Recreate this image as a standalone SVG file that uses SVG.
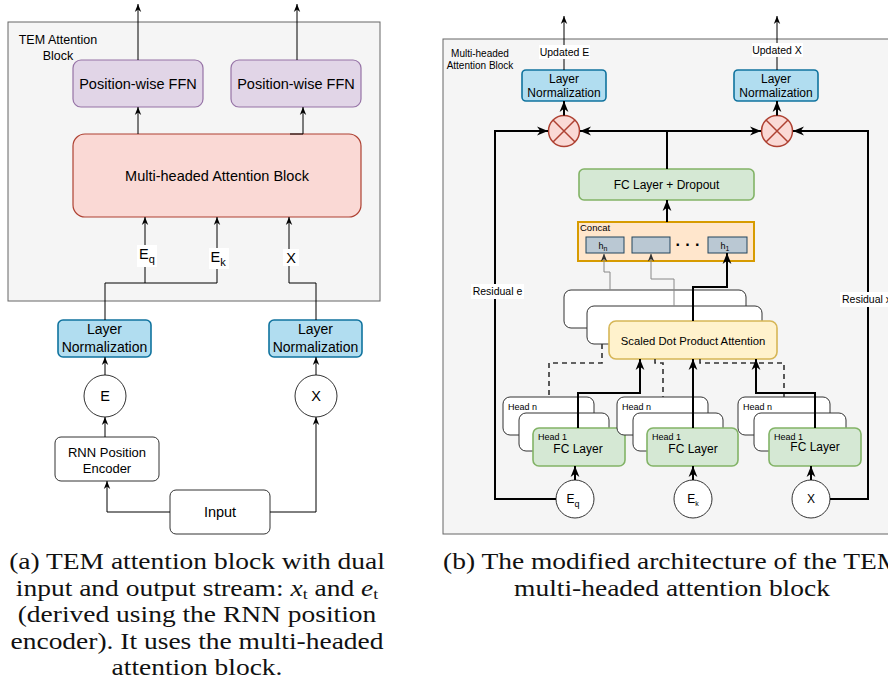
<svg xmlns="http://www.w3.org/2000/svg" width="888" height="685" viewBox="0 0 888 685">
<defs>
<style>
text{font-family:"Liberation Sans",Arial,Helvetica,sans-serif;fill:#000}
.cap{font-family:"Liberation Serif","Times New Roman",serif;font-size:23px;fill:#111}
.frame{fill:#f5f5f5;stroke:#666;stroke-width:1}
.ffn{fill:#e1d5e7;stroke:#9673a6;stroke-width:1.2}
.mha{fill:#fad9d5;stroke:#ae4132;stroke-width:1.2}
.ln{fill:#b1ddf0;stroke:#10739e;stroke-width:1.6}
.plain{fill:#fff;stroke:#333;stroke-width:1}
.fc{fill:#d5e8d4;stroke:#82b366;stroke-width:1.6}
.sdpa{fill:#fff2cc;stroke:#d6b656;stroke-width:1.6}
.concat{fill:#ffe6cc;stroke:#d79b00;stroke-width:2}
.hbox{fill:#bac8d3;stroke:#23445d;stroke-width:1}
.mul{fill:#fad9d5;stroke:#ae4132;stroke-width:1.5}
.x{stroke:#ae4132;stroke-width:1.5}
.w{fill:none;stroke:#000;stroke-width:1}
.t{fill:none;stroke:#000;stroke-width:2}
.g{fill:none;stroke:#888;stroke-width:1}
.d{fill:none;stroke:#333;stroke-width:1.6;stroke-dasharray:5 4}
.bg{fill:#fff}
</style>
<marker id="a1" viewBox="0 0 10 10" refX="10" refY="5" markerWidth="8" markerHeight="8" markerUnits="userSpaceOnUse" orient="auto"><path d="M0,1 L10,5 L0,9 L3,5 z" fill="#000"/></marker>
<marker id="a2" viewBox="0 0 10 10" refX="10" refY="5" markerWidth="11" markerHeight="11" markerUnits="userSpaceOnUse" orient="auto"><path d="M0,1 L10,5 L0,9 L3,5 z" fill="#000"/></marker>
<marker id="ag" viewBox="0 0 10 10" refX="10" refY="5" markerWidth="8" markerHeight="8" markerUnits="userSpaceOnUse" orient="auto"><path d="M0,1 L10,5 L0,9 L3,5 z" fill="#333"/></marker>
</defs>

<!-- ===== (a) TEM attention block ===== -->
<rect class="frame" x="8" y="22" width="372" height="279"/>
<text x="58" y="43.5" font-size="12.5" text-anchor="middle">TEM Attention</text>
<text x="58" y="59.5" font-size="12.5" text-anchor="middle">Block</text>

<g id="ffn-e"><rect class="ffn" x="73" y="60" width="130" height="47" rx="8"/><text x="138" y="88.5" font-size="14.5" text-anchor="middle">Position-wise FFN</text></g>
<g id="ffn-x"><rect class="ffn" x="231" y="60" width="130" height="47" rx="8"/><text x="296" y="88.5" font-size="14.5" text-anchor="middle">Position-wise FFN</text></g>
<g id="mha-a"><rect class="mha" x="73" y="134" width="288" height="83" rx="12"/><text x="217" y="181" font-size="14.5" text-anchor="middle">Multi-headed Attention Block</text></g>
<g id="ln-e-a"><rect class="ln" x="58" y="320" width="93" height="37" rx="5"/><text x="104.5" y="334" font-size="14" text-anchor="middle">Layer</text><text x="104.5" y="352" font-size="14" text-anchor="middle">Normalization</text></g>
<g id="ln-x-a"><rect class="ln" x="269" y="320" width="93" height="37" rx="5"/><text x="315.5" y="334" font-size="14" text-anchor="middle">Layer</text><text x="315.5" y="352" font-size="14" text-anchor="middle">Normalization</text></g>
<g id="e-a"><circle class="plain" cx="105" cy="396" r="21"/><text x="105" y="401" font-size="14.5" text-anchor="middle">E</text></g>
<g id="x-a"><circle class="plain" cx="316" cy="396" r="21"/><text x="316" y="401" font-size="14.5" text-anchor="middle">X</text></g>
<g id="rnn"><rect class="plain" x="55" y="437" width="104" height="44" rx="6"/><text x="107" y="457" font-size="13" text-anchor="middle">RNN Position</text><text x="107" y="473" font-size="13" text-anchor="middle">Encoder</text></g>
<g id="input"><rect class="plain" x="170" y="490" width="100" height="44" rx="6"/><text x="220" y="517" font-size="14.5" text-anchor="middle">Input</text></g>

<!-- ===== (b) modified multi-headed attention block ===== -->
<rect class="frame" x="443" y="39" width="460" height="495"/>
<text x="480" y="57" font-size="10" text-anchor="middle">Multi-headed</text>
<text x="480" y="69" font-size="10" text-anchor="middle">Attention Block</text>

<g id="ln-e-b"><rect class="ln" x="522" y="70" width="84" height="31" rx="4"/><text x="564" y="82.5" font-size="12" text-anchor="middle">Layer</text><text x="564" y="97" font-size="12" text-anchor="middle">Normalization</text></g>
<g id="ln-x-b"><rect class="ln" x="734" y="70" width="84" height="31" rx="4"/><text x="776" y="82.5" font-size="12" text-anchor="middle">Layer</text><text x="776" y="97" font-size="12" text-anchor="middle">Normalization</text></g>
<g id="mul-e"><circle class="mul" cx="564" cy="131" r="15.5"/><path class="x" d="M553,120 L575,142 M575,120 L553,142"/></g>
<g id="mul-x"><circle class="mul" cx="777" cy="131" r="15.5"/><path class="x" d="M766,120 L788,142 M788,120 L766,142"/></g>
<g id="fc-dropout"><rect class="fc" x="579" y="169" width="175" height="31" rx="5"/><text x="666.5" y="188.5" font-size="12" text-anchor="middle">FC Layer + Dropout</text></g>
<g id="concat">
<rect class="concat" x="578" y="222" width="176" height="39"/>
<text x="580" y="231" font-size="9.5">Concat</text>
<rect class="hbox" x="586" y="237" width="38" height="16"/><text x="603" y="248.5" font-size="9" text-anchor="middle">h<tspan font-size="7" dy="2">n</tspan></text>
<rect class="hbox" x="632" y="237" width="38" height="16"/>
<text x="688" y="250" font-size="16" font-weight="bold" text-anchor="middle">· · ·</text>
<rect class="hbox" x="708" y="237" width="39" height="16"/><text x="725" y="248.5" font-size="9" text-anchor="middle">h<tspan font-size="7" dy="2">1</tspan></text>
</g>
<g id="sdpa">
<rect class="plain" x="564" y="290" width="182" height="38" rx="7" stroke="#555"/>
<rect class="plain" x="587" y="306" width="175" height="38" rx="7" stroke="#555"/>
<rect class="sdpa" x="609" y="321" width="168" height="38" rx="7"/>
<text x="693" y="345" font-size="11.3" text-anchor="middle">Scaled Dot Product Attention</text>
</g>
<g id="heads-q">
<rect class="plain" x="503" y="397" width="91" height="38" rx="7"/><text x="508" y="410" font-size="9">Head n</text>
<rect class="plain" x="519" y="413" width="90" height="38" rx="7"/>
<rect class="fc" x="533" y="428" width="92" height="38" rx="6"/><text x="538" y="440" font-size="9">Head 1</text><text x="578" y="453" font-size="12" text-anchor="middle">FC Layer</text>
</g>
<g id="heads-k">
<rect class="plain" x="617" y="397" width="91" height="38" rx="7"/><text x="622" y="410" font-size="9">Head n</text>
<rect class="plain" x="633" y="413" width="90" height="38" rx="7"/>
<rect class="fc" x="647" y="428" width="91" height="38" rx="6"/><text x="652" y="440" font-size="9">Head 1</text><text x="693" y="453" font-size="12" text-anchor="middle">FC Layer</text>
</g>
<g id="heads-x">
<rect class="plain" x="738" y="397" width="92" height="38" rx="7"/><text x="743" y="410" font-size="9">Head n</text>
<rect class="plain" x="754" y="413" width="92" height="38" rx="7"/>
<rect class="fc" x="769" y="428" width="92" height="38" rx="6"/><text x="774" y="440" font-size="9">Head 1</text><text x="815" y="451" font-size="12" text-anchor="middle">FC Layer</text>
</g>
<g id="eq-b"><circle class="plain" cx="575" cy="499" r="19"/><text x="573" y="503" font-size="12" text-anchor="middle">E<tspan font-size="9" dy="4">q</tspan></text></g>
<g id="ek-b"><circle class="plain" cx="693" cy="499" r="19"/><text x="693" y="503" font-size="12" text-anchor="middle">E<tspan font-size="7" dy="3">k</tspan></text></g>
<g id="x-b"><circle class="plain" cx="811" cy="499" r="19"/><text x="811" y="503" font-size="12" text-anchor="middle">X</text></g>

<!-- connectors -->
<g id="connectors">
<path class="w" d="M138,60 V4" marker-end="url(#a1)"/>
<path class="w" d="M297,60 V4" marker-end="url(#a1)"/>
<path class="w" d="M138,134 V107" marker-end="url(#a1)"/>
<path class="w" d="M290,134 H303 V107" marker-end="url(#a1)"/>
<path class="w" d="M105,320 V283 H217 V217" marker-end="url(#a1)"/>
<path class="w" d="M145,283 V217" marker-end="url(#a1)"/>
<path class="w" d="M316,320 V283 H289 V217" marker-end="url(#a1)"/>
<path class="w" d="M105,375 V357" marker-end="url(#a1)"/>
<path class="w" d="M316,375 V357" marker-end="url(#a1)"/>
<path class="w" d="M105,437 V417" marker-end="url(#a1)"/>
<path class="w" d="M170,512 H107 V481" marker-end="url(#a1)"/>
<path class="w" d="M270,512 H316 V417" marker-end="url(#a1)"/>

<path class="w" d="M564,70 V16" marker-end="url(#a1)"/>
<path class="w" d="M777,70 V16" marker-end="url(#a1)"/>
<path class="t" d="M564,115.5 V101" marker-end="url(#a2)"/>
<path class="t" d="M777,115.5 V101" marker-end="url(#a2)"/>
<path class="t" d="M667,169 V131 H580" marker-end="url(#a2)"/>
<path class="t" d="M667,131 H761" marker-end="url(#a2)"/>
<path class="t" d="M556,499 H495 V131 H548" marker-end="url(#a2)"/>
<path class="t" d="M830,499 H868 V131 H793" marker-end="url(#a2)"/>
<path class="t" d="M667,222 V200" marker-end="url(#a2)"/>
<path class="g" d="M610,290 V272 H604 V253.5" marker-end="url(#ag)"/>
<path class="g" d="M674,306 V279 H651 V253.5" marker-end="url(#ag)"/>
<path class="t" d="M693,321 V287 H727 V253" marker-end="url(#a2)"/>
<path class="d" d="M602,344 V363 H549 V397"/>
<path class="d" d="M655,359 V363 H663 V397"/>
<path class="d" d="M700,359 V363 H784 V397"/>
<path class="t" d="M578,428 V393 H640 V359" marker-end="url(#a2)"/>
<path class="t" d="M693,428 V359" marker-end="url(#a2)"/>
<path class="t" d="M815,428 V393 H756 V359" marker-end="url(#a2)"/>
<path class="t" d="M575,480 V466" marker-end="url(#a2)"/>
<path class="t" d="M693,480 V466" marker-end="url(#a2)"/>
<path class="t" d="M811,480 V466" marker-end="url(#a2)"/>
</g>

<!-- edge labels -->
<g id="edge-labels">
<rect class="bg" x="137" y="245" width="20" height="22"/><text x="139" y="259" font-size="14.5">E<tspan font-size="11" dy="4">q</tspan></text>
<rect class="bg" x="209" y="248" width="20" height="21"/><text x="210.5" y="262" font-size="14.5">E<tspan font-size="11" dy="4">k</tspan></text>
<rect class="bg" x="283" y="249" width="16" height="17"/><text x="291" y="263" font-size="14.5" text-anchor="middle">X</text>
<rect class="bg" x="539" y="45" width="51" height="14"/><text x="564.5" y="56" font-size="10.5" text-anchor="middle">Updated E</text>
<rect class="bg" x="752" y="43" width="51" height="14"/><text x="777" y="54" font-size="10.5" text-anchor="middle">Updated X</text>
<rect class="bg" x="471" y="284" width="53" height="15"/><text x="497.5" y="295" font-size="10.5" text-anchor="middle">Residual e</text>
<rect class="bg" x="840" y="292" width="60" height="15"/><text x="842" y="303" font-size="10.5">Residual x</text>
</g>

<!-- captions -->
<g id="captions">
<text class="cap" transform="translate(197 569) scale(1.195 1)" text-anchor="middle">(a) TEM attention block with dual</text>
<text class="cap" transform="translate(197 596) scale(1.195 1)" text-anchor="middle">input and output stream: <tspan font-style="italic">x</tspan><tspan font-size="15" dy="3">t</tspan><tspan dy="-3"> and </tspan><tspan font-style="italic">e</tspan><tspan font-size="15" dy="3">t</tspan></text>
<text class="cap" transform="translate(197 622) scale(1.195 1)" text-anchor="middle">(derived using the RNN position</text>
<text class="cap" transform="translate(197 649) scale(1.195 1)" text-anchor="middle">encoder). It uses the multi-headed</text>
<text class="cap" transform="translate(197 675) scale(1.195 1)" text-anchor="middle">attention block.</text>
<text class="cap" transform="translate(443 569) scale(1.195 1)">(b) The modified architecture of the TEM</text>
<text class="cap" transform="translate(672 596) scale(1.195 1)" text-anchor="middle">multi-headed attention block</text>
</g>
</svg>
